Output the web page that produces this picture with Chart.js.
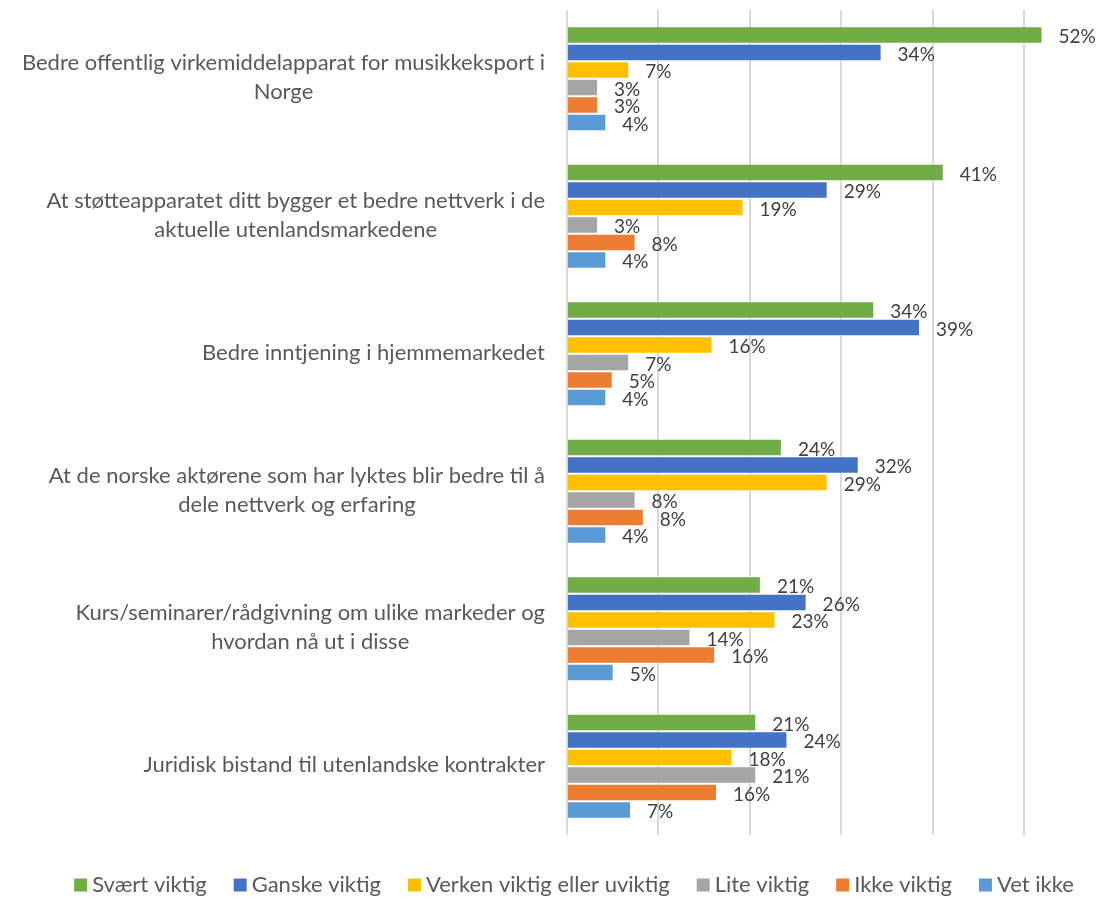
<!DOCTYPE html>
<html>
<head>
<meta charset="utf-8">
<script src="https://cdn.jsdelivr.net/npm/chart.js@4.4.1/dist/chart.umd.min.js"></script>
<style>
  html, body { margin: 0; padding: 0; background: #fff; }
  #wrap { width: 1105px; height: 899px; }
</style>
</head>
<body>
<div id="wrap"><canvas id="chart"></canvas></div>
<script>
// Categories (one array per wrapped label)
const categories = [
  ["Bedre offentlig virkemiddelapparat for musikkeksport i", "Norge"],
  ["At støtteapparatet ditt bygger et bedre nettverk i de", "aktuelle utenlandsmarkedene"],
  ["Bedre inntjening i hjemmemarkedet"],
  ["At de norske aktørene som har lyktes blir bedre til å", "dele nettverk og erfaring"],
  ["Kurs/seminarer/rådgivning om ulike markeder og", "hvordan nå ut i disse"],
  ["Juridisk bistand til utenlandske kontrakter"],
];

const seriesNames = [
  "Svært viktig",
  "Ganske viktig",
  "Verken viktig eller uviktig",
  "Lite viktig",
  "Ikke viktig",
  "Vet ikke",
];

// Percent values
const svaertViktig = [52.0, 41.2, 33.6, 23.5, 21.2, 20.7];
const ganskeViktig = [34.4, 28.5, 38.6, 31.9, 26.2, 24.1];
const verkenViktig = [6.8, 19.3, 15.9, 28.5, 22.8, 18.1];
const liteViktig = [3.4, 3.4, 6.8, 7.5, 13.5, 20.7];
const ikkeViktig = [3.4, 7.5, 5.0, 8.4, 16.2, 16.4];
const vetIkke = [4.3, 4.3, 4.3, 4.3, 5.1, 7.0];

const seriesColors = ["#70AD47", "#4472C4", "#FFC000", "#A5A5A5", "#ED7D31", "#5B9BD5"];
const gridTicks = [0, 10, 20, 30, 40, 50];

const FONT = "Lato";
const TEXT_COLOR = "#595959";

const allSeries = [svaertViktig, ganskeViktig, verkenViktig, liteViktig, ikkeViktig, vetIkke];

const datasets = allSeries.map((data, i) => ({
  label: seriesNames[i],
  data: data,
  backgroundColor: seriesColors[i],
  borderColor: "rgba(255,255,255,0.5)",
  borderWidth: 1,
  barPercentage: 1.0,
  categoryPercentage: 0.765,
}));

// Draw category labels: block right-aligned, lines centered to each other
const categoryLabels = {
  id: "categoryLabels",
  afterDraw(chart) {
    const ctx = chart.ctx;
    const yScale = chart.scales.y;
    const right = 545;
    const lineH = 29;
    ctx.save();
    ctx.font = `22px ${FONT}`;
    ctx.fillStyle = TEXT_COLOR;
    ctx.textAlign = "center";
    ctx.textBaseline = "middle";
    categories.forEach((lines, i) => {
      const cy = yScale.getPixelForValue(i);
      const widest = Math.max(...lines.map((l) => ctx.measureText(l).width));
      const cx = right - widest / 2;
      const startY = cy - ((lines.length - 1) * lineH) / 2 - 1;
      lines.forEach((line, j) => {
        ctx.fillText(line, cx, startY + j * lineH);
      });
    });
    ctx.restore();
  },
};

// Value labels right of each bar
const valueLabels = {
  id: "valueLabels",
  afterDatasetsDraw(chart) {
    const ctx = chart.ctx;
    ctx.save();
    ctx.font = `19px ${FONT}`;
    ctx.fillStyle = "#404040";
    ctx.textAlign = "left";
    ctx.textBaseline = "middle";
    chart.data.datasets.forEach((ds, di) => {
      const meta = chart.getDatasetMeta(di);
      meta.data.forEach((bar, i) => {
        ctx.fillText(Math.round(ds.data[i]) + "%", bar.x + 16, bar.y + 2);
      });
    });
    ctx.restore();
  },
};

// Single-row legend, centered under the chart like the original
const bottomLegend = {
  id: "bottomLegend",
  afterDraw(chart) {
    const ctx = chart.ctx;
    const box = 13;
    const gap = 5;
    const itemGap = 27;
    const centerX = 574;
    const y = 885;
    ctx.save();
    ctx.font = `22px ${FONT}`;
    ctx.textBaseline = "middle";
    ctx.textAlign = "left";
    const items = chart.data.datasets.map((ds) => ({
      text: ds.label,
      color: ds.backgroundColor,
      w: box + gap + ctx.measureText(ds.label).width,
    }));
    const total = items.reduce((s, it) => s + it.w, 0) + itemGap * (items.length - 1);
    let x = centerX - total / 2;
    items.forEach((it) => {
      ctx.fillStyle = it.color;
      ctx.fillRect(x, y - box / 2, box, box);
      ctx.fillStyle = TEXT_COLOR;
      ctx.fillText(it.text, x + box + gap, y);
      x += it.w + itemGap;
    });
    ctx.restore();
  },
};

const ctx = document.getElementById("chart");
new Chart(ctx, {
  type: "bar",
  data: {
    labels: categories.map((c) => c.join(" ")),
    datasets: datasets,
  },
  plugins: [categoryLabels, valueLabels, bottomLegend],
  options: {
    indexAxis: "y",
    responsive: true,
    maintainAspectRatio: false,
    animation: false,
    layout: {
      padding: { top: 10, right: 35, bottom: 64, left: 0 },
    },
    plugins: {
      legend: { display: false },
      tooltip: { enabled: false },
    },
    scales: {
      x: {
        min: 0,
        max: 55,
        afterBuildTicks: (scale) => {
          scale.ticks = gridTicks.map((v) => ({ value: v }));
        },
        afterFit: (scale) => {
          scale.height = 0;
        },
        ticks: { display: false },
        grid: {
          color: "#D9D9D9",
          lineWidth: 2,
          drawTicks: false,
        },
        border: { display: false },
      },
      y: {
        ticks: { display: false },
        grid: { display: false, drawTicks: false },
        border: { display: false },
        afterFit: (scale) => {
          scale.width = 567;
        },
      },
    },
  },
});
</script>
</body>
</html>
